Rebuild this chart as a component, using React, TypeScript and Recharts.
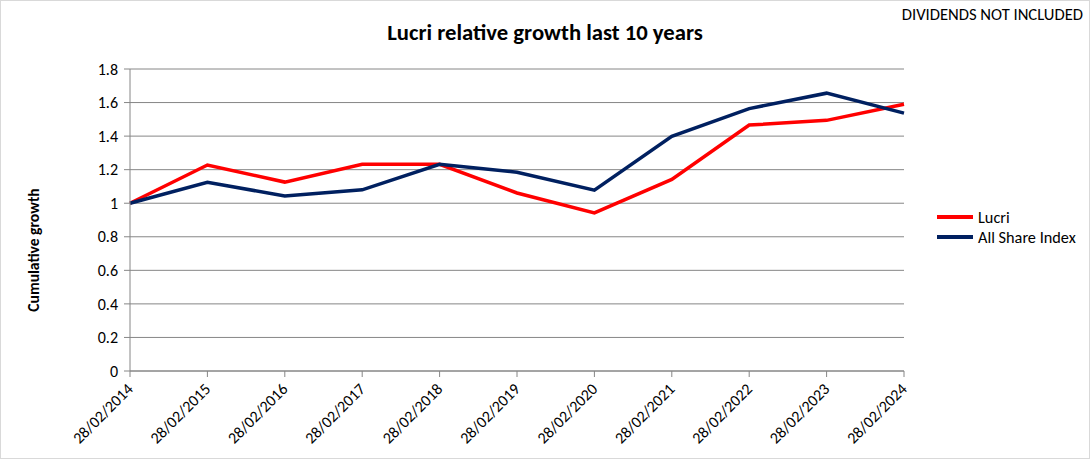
import React from 'react';
import { LineChart, Line, XAxis, YAxis, CartesianGrid, Legend } from 'recharts';

const dates = [
  '28/02/2014', '28/02/2015', '28/02/2016', '28/02/2017', '28/02/2018', '28/02/2019',
  '28/02/2020', '28/02/2021', '28/02/2022', '28/02/2023', '28/02/2024',
];
const lucri = [1.0, 1.228, 1.126, 1.232, 1.232, 1.061, 0.942, 1.142, 1.466, 1.494, 1.59];
const allShare = [1.0, 1.125, 1.043, 1.08, 1.232, 1.185, 1.078, 1.399, 1.564, 1.656, 1.537];
const yTicks = [0, 0.2, 0.4, 0.6, 0.8, 1, 1.2, 1.4, 1.6, 1.8];

const data = dates.map((d, i) => ({ date: d, lucri: lucri[i], allShare: allShare[i] }));

const FONT = 'Carlito, Lato, "Open Sans", sans-serif';
const AXIS_GREY = '#868686';

const DateTick = (props: any) => {
  const { x, y, payload } = props;
  const ax = x + 4;
  const ay = y + 11;
  return (
    <text
      x={ax}
      y={ay}
      transform={`rotate(-45, ${ax}, ${ay})`}
      textAnchor="end"
      fontFamily={FONT}
      fontSize={16}
      fill="#000"
    >
      {payload.value}
    </text>
  );
};

const renderLegend = () => (
  <div style={{ fontFamily: FONT, fontSize: 16.3, color: '#000', textAlign: 'left' }}>
    {[
      { name: 'Lucri', color: '#FF0000' },
      { name: 'All Share Index', color: '#002060' },
    ].map((item) => (
      <div key={item.name} style={{ display: 'flex', alignItems: 'center', height: 20 }}>
        <span style={{ display: 'inline-block', width: 36, height: 4, background: item.color, marginRight: 5 }} />
        <span>{item.name}</span>
      </div>
    ))}
  </div>
);

export default function App() {
  return (
    <div style={{ position: 'relative', width: 1090, height: 459, background: '#fff' }}>
      <style>{'body { margin: 0; }'}</style>
      <div
        style={{
          position: 'absolute', inset: 0, border: '1px solid #d9d9d9', boxSizing: 'border-box',
          pointerEvents: 'none',
        }}
      />
      <div
        style={{
          position: 'absolute', left: 0, width: 1090, top: 18, textAlign: 'center',
          fontFamily: FONT, fontWeight: 700, fontSize: 22.7, color: '#000',
        }}
      >
        Lucri relative growth last 10 years
      </div>
      <div
        style={{
          position: 'absolute', right: 7, top: 4, fontFamily: FONT, fontSize: 16.6, color: '#000',
        }}
      >
        DIVIDENDS NOT INCLUDED
      </div>
      <div
        style={{
          position: 'absolute', left: 33, top: 250, transform: 'translate(-50%, -50%) rotate(-90deg)',
          whiteSpace: 'nowrap', fontFamily: FONT, fontWeight: 700, fontSize: 15.6, color: '#000',
        }}
      >
        Cumulative growth
      </div>
      <LineChart
        width={1090}
        height={459}
        data={data}
        margin={{ top: 69, right: 186, left: 80, bottom: 0 }}
      >
        <CartesianGrid vertical={false} stroke={AXIS_GREY} strokeWidth={1} />
        <XAxis
          dataKey="date"
          height={88}
          interval={0}
          tickSize={6}
          axisLine={{ stroke: AXIS_GREY }}
          tickLine={{ stroke: AXIS_GREY }}
          tick={<DateTick />}
        />
        <YAxis
          width={50}
          domain={[0, 1.8]}
          ticks={yTicks}
          interval={0}
          tickSize={6}
          tickMargin={6}
          axisLine={{ stroke: AXIS_GREY }}
          tickLine={{ stroke: AXIS_GREY }}
          tickFormatter={(v: number) => String(Number(v.toFixed(1)))}
          tick={{ fill: '#000', fontFamily: FONT, fontSize: 16 }}
        />
        <Legend
          layout="horizontal"
          verticalAlign="middle"
          align="center"
          wrapperStyle={{ left: 937, top: 207, width: 150 }}
          content={renderLegend}
        />
        <Line
          type="linear"
          dataKey="lucri"
          name="Lucri"
          stroke="#FF0000"
          strokeWidth={3.5}
          dot={false}
          isAnimationActive={false}
        />
        <Line
          type="linear"
          dataKey="allShare"
          name="All Share Index"
          stroke="#002060"
          strokeWidth={3.5}
          dot={false}
          isAnimationActive={false}
        />
      </LineChart>
    </div>
  );
}
